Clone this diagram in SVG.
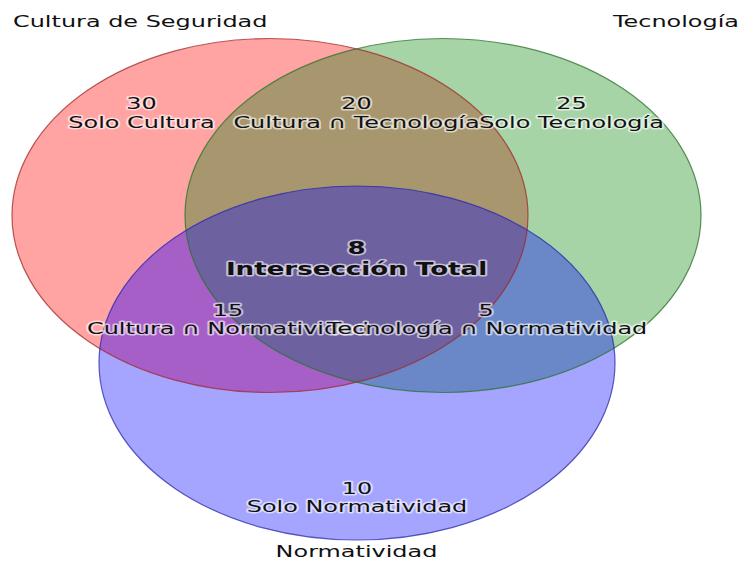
<svg xmlns="http://www.w3.org/2000/svg" width="744" height="561" viewBox="0 0 744 561">
  <style>
    .t { font-family: "DejaVu Sans", "Liberation Sans", sans-serif; font-size: 16.5px; fill: #111; text-anchor: middle; }
    .h { stroke: #ffffff; stroke-opacity: 0.6; stroke-width: 3; paint-order: stroke; stroke-linejoin: round; }
    .b { font-weight: bold; font-size: 18px; }
    .set { font-family: "DejaVu Sans", "Liberation Sans", sans-serif; font-size: 16.5px; fill: #111; }
  </style>
  <defs>
    <clipPath id="cR"><ellipse cx="270" cy="215.5" rx="258" ry="177"/></clipPath>
    <clipPath id="cG"><ellipse cx="443" cy="215.5" rx="258" ry="177"/></clipPath>
    <clipPath id="cB"><ellipse cx="357" cy="363" rx="258" ry="177"/></clipPath>
  </defs>
  <rect width="744" height="561" fill="#ffffff"/>
  <g id="set-cultura">
    <ellipse cx="270" cy="215.5" rx="258" ry="177" fill="#ffa3a3"/>
  </g>
  <g id="set-tecnologia">
    <ellipse cx="443" cy="215.5" rx="258" ry="177" fill="#a7d4a7"/>
  </g>
  <g id="set-normatividad">
    <ellipse cx="357" cy="363" rx="258" ry="177" fill="#a5a5ff"/>
  </g>
  <g id="overlaps">
    <g clip-path="url(#cR)"><ellipse cx="443" cy="215.5" rx="258" ry="177" fill="#a8966e"/></g>
    <g clip-path="url(#cR)"><ellipse cx="357" cy="363" rx="258" ry="177" fill="#a75fc8"/></g>
    <g clip-path="url(#cG)"><ellipse cx="357" cy="363" rx="258" ry="177" fill="#6a88c8"/></g>
    <g clip-path="url(#cR)"><g clip-path="url(#cG)"><ellipse cx="357" cy="363" rx="258" ry="177" fill="#6e61a0"/></g></g>
  </g>
  <g id="outlines" fill="none" stroke-width="1.2">
    <ellipse cx="270" cy="215.5" rx="258" ry="177" stroke="#a02828" stroke-opacity="0.75"/>
    <ellipse cx="443" cy="215.5" rx="258" ry="177" stroke="#2a702a" stroke-opacity="0.75"/>
    <ellipse cx="357" cy="363" rx="258" ry="177" stroke="#2828a8" stroke-opacity="0.75"/>
  </g>
  <g id="set-labels">
    <text class="set" transform="translate(13,27) scale(1.45,1)">Cultura de Seguridad</text>
    <text class="set" text-anchor="end" transform="translate(739,27) scale(1.45,1)">Tecnología</text>
    <text class="set" text-anchor="middle" transform="translate(356.5,557) scale(1.45,1)">Normatividad</text>
  </g>
  <g id="region-labels">
    <text class="t h" transform="translate(141.5,109) scale(1.45,1)">30</text>
    <text class="t h" transform="translate(141.5,128) scale(1.45,1)">Solo Cultura</text>
    <text class="t h" transform="translate(356.5,109) scale(1.45,1)">20</text>
    <text class="t h" transform="translate(356.5,128) scale(1.45,1)">Cultura ∩ Tecnología</text>
    <text class="t h" transform="translate(571.5,109) scale(1.45,1)">25</text>
    <text class="t h" transform="translate(571.5,128) scale(1.45,1)">Solo Tecnología</text>
    <text class="t h b" transform="translate(356.5,254) scale(1.45,1)">8</text>
    <text class="t h b" transform="translate(356.5,275) scale(1.45,1)">Intersección Total</text>
    <text class="t h" transform="translate(228,316) scale(1.45,1)">15</text>
    <text class="t h" transform="translate(228,334) scale(1.45,1)">Cultura ∩ Normatividad</text>
    <text class="t h" transform="translate(486,316) scale(1.45,1)">5</text>
    <text class="t h" transform="translate(487,334) scale(1.45,1)">Tecnología ∩ Normatividad</text>
    <text class="t h" transform="translate(357,494) scale(1.45,1)">10</text>
    <text class="t h" transform="translate(357,512) scale(1.45,1)">Solo Normatividad</text>
  </g>
</svg>
